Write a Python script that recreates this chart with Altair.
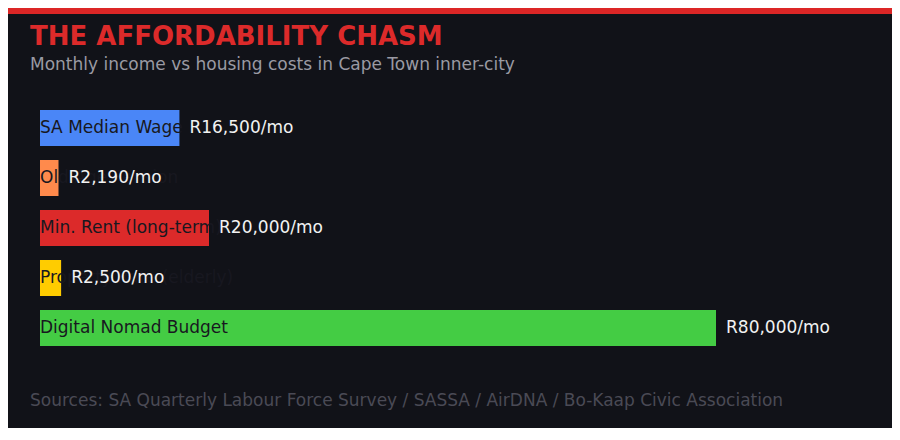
import pandas as pd
import altair as alt

categories = ["SA Median Wage", "Old Age Pension", "Min. Rent (long-term)",
              "Property Rate (elderly)", "Digital Nomad Budget"]
monthly = [16500, 2190, 20000, 2500, 80000]
colours = ["#4a86f7", "#ff8a4c", "#dc2a2a", "#ffcc00", "#44cc44"]

title_text = "THE AFFORDABILITY CHASM"
subtitle_text = "Monthly income vs housing costs in Cape Town inner-city"
source_text = "Sources: SA Quarterly Labour Force Survey / SASSA / AirDNA / Bo-Kaap Civic Association"

BG = "#111218"
FONT = "DejaVu Sans"

df = pd.DataFrame({"category": categories, "value": monthly, "colour": colours})
df["zero"] = 0

# shared scales, placed so the bars line up with the original layout
x_scale = alt.Scale(domain=[0, 80000], range=[32, 708], nice=False)
y_enc = alt.Y("category:N", sort=categories,
              scale=alt.Scale(range=[95, 345], paddingInner=0.28, paddingOuter=0.14), axis=None)

base = alt.Chart(df)

bars = base.mark_bar().encode(
    x=alt.X("value:Q", scale=x_scale, axis=None),
    y=y_enc,
    color=alt.Color("colour:N", scale=None),
)

# category names sit inside the bar start, in near-background colour
names = base.mark_text(align="left", baseline="middle", font=FONT, fontSize=17, color="#181820").encode(
    x=alt.X("zero:Q"),
    y=y_enc,
    text="category:N",
)

amounts = base.transform_calculate(
    label="'R' + format(datum.value, ',') + '/mo'"
).mark_text(align="left", baseline="middle", dx=10, font=FONT, fontSize=17, color="#f2f2f2").encode(
    x=alt.X("value:Q"),
    y=y_enc,
    text="label:N",
)

layout = pd.DataFrame({"t": [title_text]})
top_strip = alt.Chart(layout).mark_rule(color="#dc2626", strokeWidth=6).encode(
    x=alt.value(0), x2=alt.value(884), y=alt.value(3)
)

title = alt.Chart(layout).mark_text(
    align="left", baseline="alphabetic", font=FONT, fontSize=26, fontWeight="bold", color="#dc2a2a"
).encode(x=alt.value(22), y=alt.value(37), text="t:N")

subtitle = alt.Chart(pd.DataFrame({"t": [subtitle_text]})).mark_text(
    align="left", baseline="alphabetic", font=FONT, fontSize=17, color="#9a9aa3"
).encode(x=alt.value(22), y=alt.value(62), text="t:N")

source = alt.Chart(pd.DataFrame({"t": [source_text]})).mark_text(
    align="left", baseline="alphabetic", font=FONT, fontSize=17, color="#4a4a55"
).encode(x=alt.value(22), y=alt.value(398), text="t:N")

chart = alt.layer(bars, names, amounts, top_strip, title, subtitle, source).properties(
    width=884, height=420, background=BG, padding=0,
    autosize=alt.AutoSizeParams(type="none"),
).configure_view(stroke=None)

chart.save("out.html", embed_options={"renderer": "svg", "actions": False})
